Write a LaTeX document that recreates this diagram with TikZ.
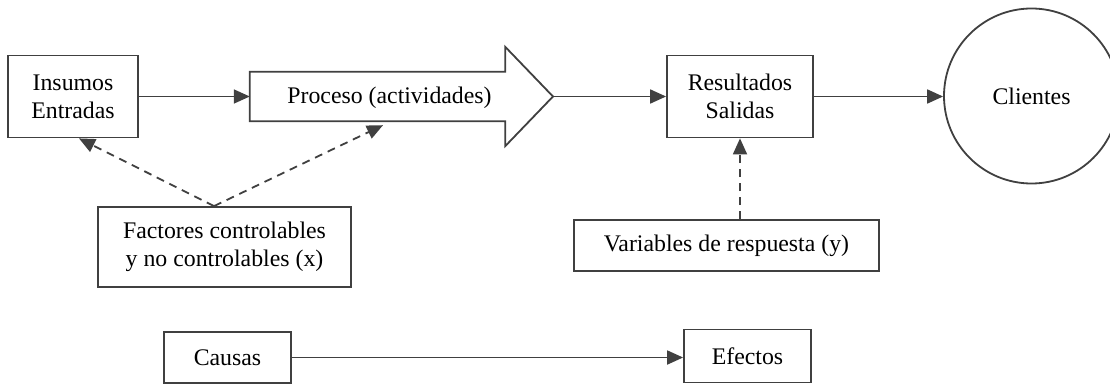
\documentclass[tikz,border=0pt]{standalone}
\usepackage{fontspec}
\setmainfont{Liberation Serif}
\usetikzlibrary{arrows.meta,calc}
\definecolor{ink}{HTML}{404040}
\begin{document}
\begin{tikzpicture}[x=1pt,y=-1pt,
  txt/.style={font=\fontsize{23.8}{28}\selectfont, align=center, inner sep=0pt},
  box/.style={txt, draw=ink, line width=1.8pt, fill=white},
  flow/.style={draw=ink, line width=1.8pt, -{Triangle[length=16pt,width=14pt]}},
  hint/.style={flow, dash pattern=on 8pt off 6pt},
]
% canvas
\clip (0,0) rectangle (1110,385);
\fill[white] (0,0) rectangle (1110,385);

% main chain
\node[box, minimum width=130pt, minimum height=82pt] (ins) at (73,96.5) {Insumos\\Entradas};
\node[inner sep=0pt, minimum width=255pt, minimum height=49pt] (proc) at (377.5,96.5) {};
\coordinate (tip) at (553,96.5);
\draw[draw=ink, line width=1.8pt, line join=miter]
  (proc.north west) -- (proc.north east) -- ++(0,-25) -- (tip)
  -- ($(proc.south east)+(0,25)$) -- (proc.south east) -- (proc.south west) -- cycle;
\node[txt] (proclabel) at (389.5,98) {Proceso (actividades)};
\node[box, minimum width=146pt, minimum height=82pt] (res) at (740,96.5) {Resultados\\Salidas};
\node[txt, draw=ink, line width=1.8pt, circle, minimum size=175pt] (cli) at (1031.5,96) {Clientes};

% influences
\node[box, minimum width=253pt, minimum height=80pt] (fac) at (224.5,247) {Factores controlables\\y no controlables (x)};
\node[box, minimum width=305pt, minimum height=51pt] (var) at (726.5,245.5) {Variables de respuesta (y)};
\coordinate (apex) at ($(fac.north)+(-10.5,0)$);

% cause and effect
\node[box, minimum width=127pt, minimum height=51pt] (cau) at (227.5,357.5) {Causas};
\node[box, minimum width=127pt, minimum height=53pt] (efe) at (747.5,356) {Efectos};

% connectors
\draw[flow] (ins.east) -- (proc.west);
\draw[flow] (tip) -- (res.west);
\draw[flow] (res.east) -- (res.east -| cli.west);
\draw[hint] (apex) -- ($(ins.south)+(6,0)$);
\draw[hint] (apex) -- ($(proc.south)+(5.5,4)$);
\draw[hint] (var.north -| res.south) -- (res.south);
\draw[flow] (cau.east) -- (cau.east -| efe.west);
\end{tikzpicture}
\end{document}
